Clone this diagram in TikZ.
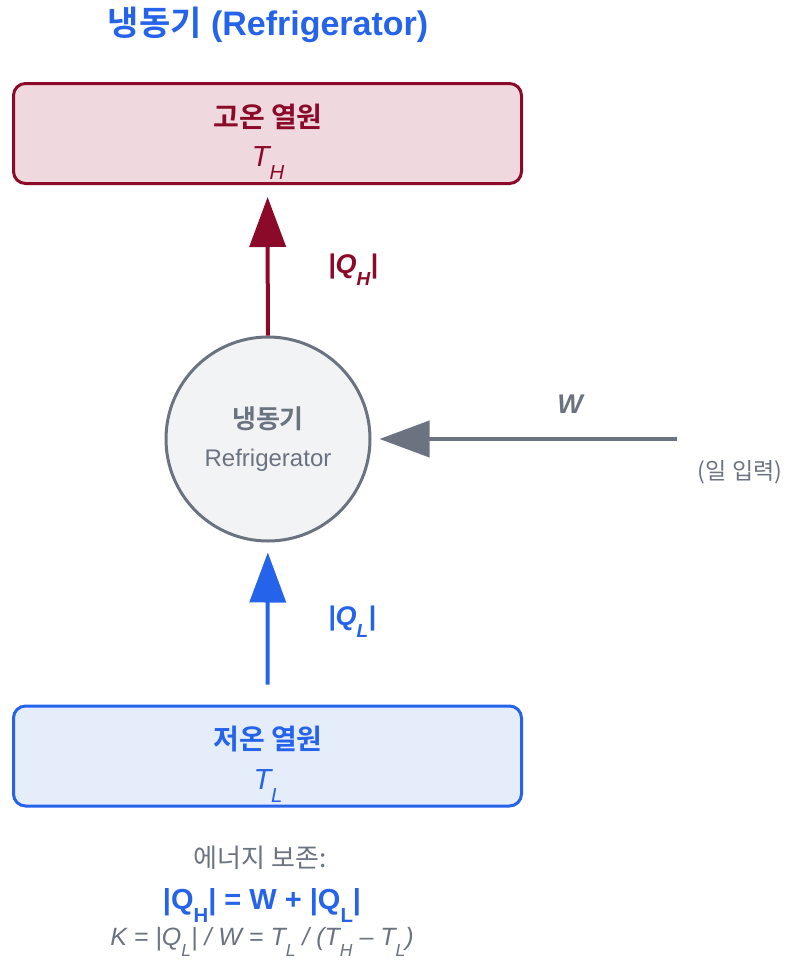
\documentclass[tikz,border=0pt]{standalone}
\usepackage{fontspec}
\setmainfont{Liberation Sans}
\newfontfamily\krfont{Noto Sans CJK KR}[BoldFont={Noto Sans CJK KR Bold}]
\usetikzlibrary{arrows.meta}
\definecolor{hotred}{RGB}{139,10,42}
\definecolor{hotfill}{RGB}{239,217,223}
\definecolor{coldblue}{RGB}{37,99,235}
\definecolor{coldfill}{RGB}{229,237,251}
\definecolor{slate}{RGB}{107,114,128}
\definecolor{fridgefill}{RGB}{242,243,245}
\newcommand{\lowidx}[1]{\raisebox{-0.45em}{\scalebox{0.7}{#1}}}
\newcommand{\px}[1]{\fontsize{#1}{#1}\selectfont}

\begin{document}
\begin{tikzpicture}[x=1pt,y=-1pt,
  reservoir/.style={draw,line width=3pt,rounded corners=12pt,minimum width=508pt,minimum height=100pt},
  resname/.style={font=\px{28}\krfont\bfseries},
  restemp/.style={font=\px{29}\itshape,anchor=base},
  flow/.style={line width=4pt,-{Triangle[length=50pt,width=36pt]}}]
  \useasboundingbox (0,0) rectangle (787,961);
  \node[coldblue,font=\px{34}\bfseries] (title) at (268,25) {{\krfont 냉동기} (Refrigerator)};
  % reservoirs
  \node[reservoir,draw=hotred,fill=hotfill] (hot) at (267.5,133.5) {};
  \node[resname,hotred] (hotname) at (268,117) {고온 열원};
  \node[restemp,hotred] (hottemp) at (268,166) {T\lowidx{H}};
  \node[reservoir,draw=coldblue,fill=coldfill] (cold) at (267.5,756) {};
  \node[resname,coldblue] (coldname) at (268,739) {저온 열원};
  \node[restemp,coldblue] (coldtemp) at (268,789) {T\lowidx{L}};
  % refrigerator
  \node[circle,draw=slate,fill=fridgefill,line width=3pt,minimum size=204pt,align=center,text=slate] (fridge) at (268,439)
    {{\px{26}\krfont\bfseries 냉동기}\\[17pt]{\px{24}Refrigerator}};
  \coordinate (wsrc) at (677,439);
  % heat and work
  \draw[flow,hotred,shorten >=12pt] (fridge) -- (hot);
  \draw[flow,coldblue,shorten <=20pt,shorten >=10pt] (cold) -- (fridge);
  \draw[flow,slate,shorten >=8pt] (wsrc) -- (fridge);
  \node[hotred,font=\px{27}\bfseries\itshape] (qh) at (353,270) {|Q\lowidx{H}|};
  \node[coldblue,font=\px{27}\bfseries\itshape] (ql) at (352,622) {|Q\lowidx{L}|};
  \node[slate,font=\px{27}\bfseries\itshape] (w) at (570,404) {W};
  \node[slate,font=\px{23}\krfont] (winput) at (740,472) {(일 입력)};
  % energy balance
  \node[slate,font=\px{26}\krfont] (cons) at (260,858) {에너지 보존:};
  \node[coldblue,font=\px{29}\bfseries,anchor=base] (balance) at (262,909) {|Q\lowidx{H}| = W + |Q\lowidx{L}|};
  \node[slate,font=\px{25}\itshape,anchor=base] (cop) at (262,945) {K = |Q\lowidx{L}| / W = T\lowidx{L} / (T\lowidx{H} -- T\lowidx{L})};
\end{tikzpicture}
\end{document}
